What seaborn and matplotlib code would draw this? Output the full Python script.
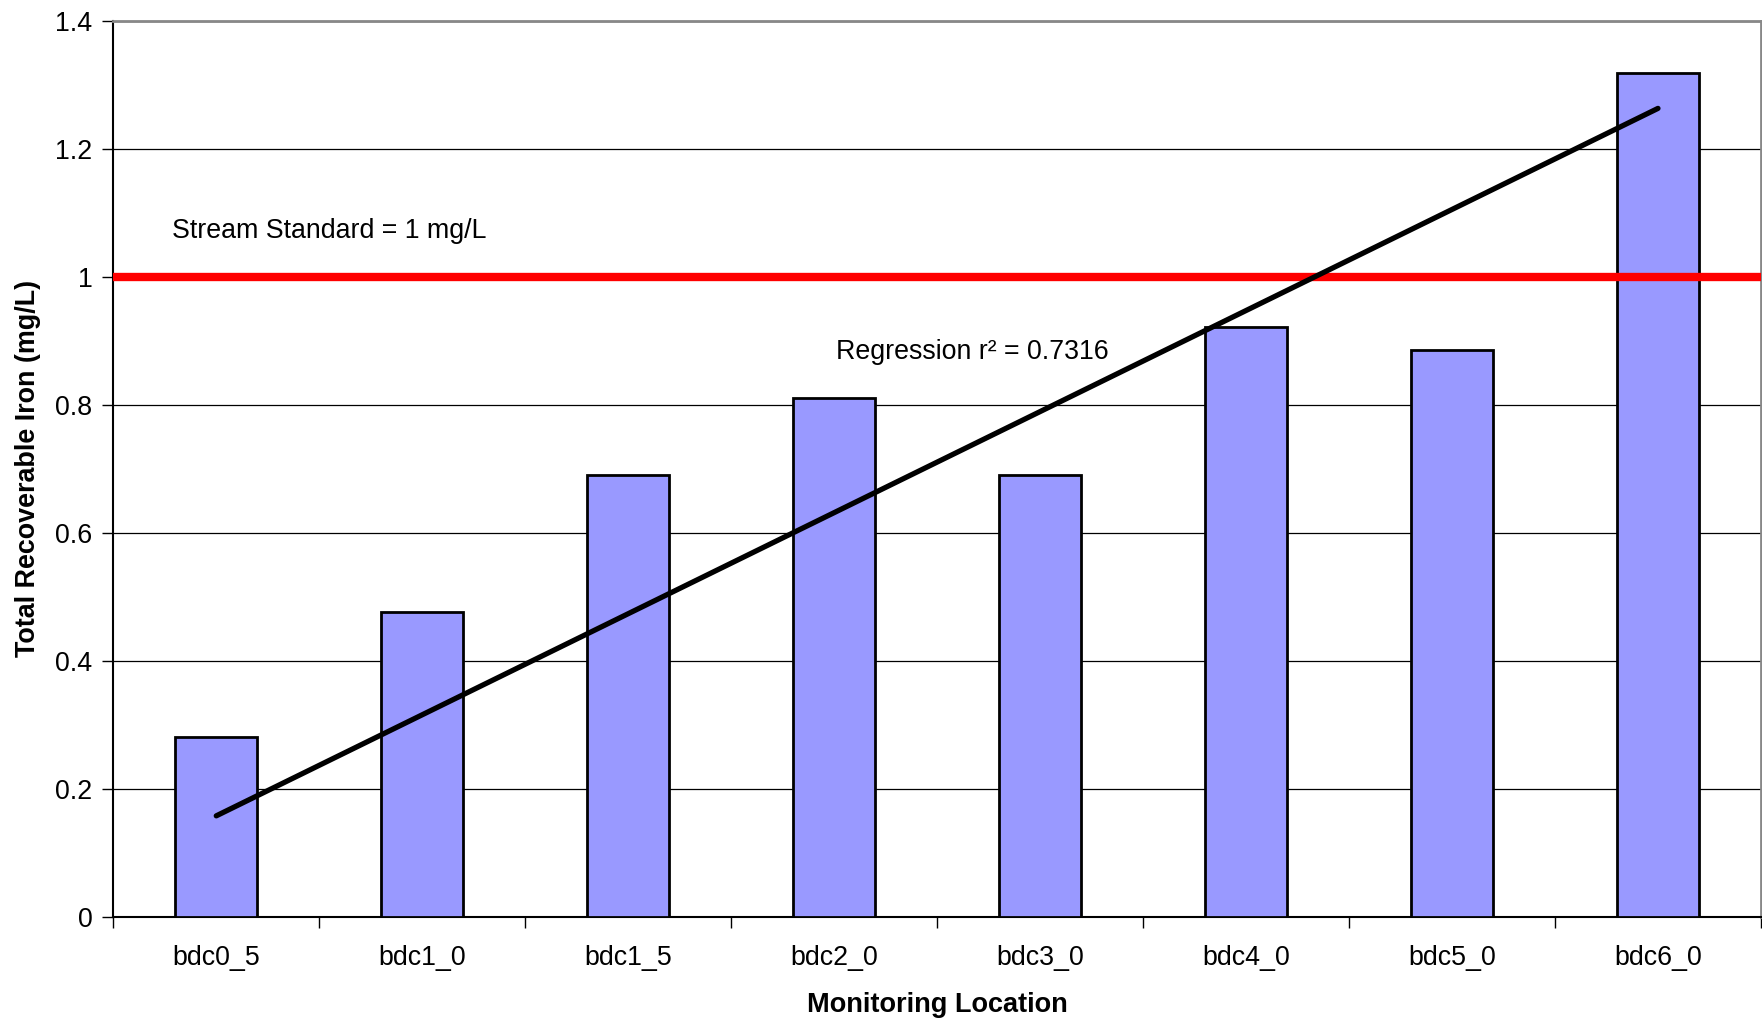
import matplotlib
matplotlib.use("Agg")
import matplotlib.pyplot as plt
from matplotlib.ticker import FixedLocator, FuncFormatter
import seaborn as sns

# values
locations = ["bdc0_5", "bdc1_0", "bdc1_5", "bdc2_0", "bdc3_0", "bdc4_0", "bdc5_0", "bdc6_0"]
iron = [0.281, 0.477, 0.690, 0.810, 0.690, 0.922, 0.885, 1.318]
trend_ends = ["bdc0_5", "bdc6_0"]
trend_vals = [0.158, 1.263]
standard = 1.0
y_ticks = [0, 0.2, 0.4, 0.6, 0.8, 1.0, 1.2, 1.4]

sns.set_style("white")
plt.rcParams["font.family"] = ["Liberation Sans", "DejaVu Sans"]
plt.rcParams["text.color"] = "black"
plt.rcParams["axes.labelcolor"] = "black"
plt.rcParams["xtick.color"] = "black"
plt.rcParams["ytick.color"] = "black"

fig = plt.figure(figsize=(17.62, 10.19), dpi=100)
ax = fig.add_axes([0.0643, 0.1001, 0.9351, 0.8796])

sns.barplot(x=locations, y=iron, color="#9999ff", saturation=1, width=0.4,
            edgecolor="black", linewidth=2, ax=ax, zorder=3)

ax.set_xlim(-0.5, len(locations) - 0.5)
ax.set_ylim(y_ticks[0], y_ticks[-1])

# grid
ax.yaxis.set_major_locator(FixedLocator(y_ticks))
ax.yaxis.set_major_formatter(FuncFormatter(lambda v, p: f"{v:g}"))
ax.grid(axis="y", color="black", linewidth=0.9, zorder=0)
ax.set_axisbelow(True)

# stream standard and trend line
ax.axhline(standard, color="#ff0000", linewidth=6, solid_capstyle="round", zorder=4)
tx = [locations.index(n) for n in trend_ends]
ax.plot(tx, trend_vals, color="black", linewidth=3.8, solid_capstyle="round", zorder=5)

ax.text(-0.216, 1.071, "Stream Standard = 1 mg/L", fontsize=19.3, va="center", ha="left")
ax.text(3.008, 0.883, "Regression r\u00b2 = 0.7316", fontsize=19.3, va="center", ha="left")

# ticks: labels at centres, small marks between categories
ax.set_xticks(range(len(locations)))
ax.set_xticklabels(locations)
ax.set_xticks([i - 0.5 for i in range(len(locations) + 1)], minor=True)
ax.tick_params(axis="x", which="major", length=0, pad=20, labelsize=19.3)
ax.tick_params(axis="x", which="minor", length=8, width=1, color="black", direction="out", bottom=True)
ax.tick_params(axis="y", which="major", length=8, width=1, color="black", direction="out",
               left=True, pad=7, labelsize=19.3)

for side in ["left", "bottom"]:
    ax.spines[side].set_color("black")
    ax.spines[side].set_linewidth(1.5)
for side in ["top", "right"]:
    ax.spines[side].set_color("#888888")
    ax.spines[side].set_linewidth(2)

ax.set_xlabel("Monitoring Location", fontsize=19.5, fontweight="bold")
ax.set_ylabel("Total Recoverable Iron (mg/L)", fontsize=19.4, fontweight="bold")
ax.xaxis.set_label_coords(0.5, -0.084)
ax.yaxis.set_label_coords(-0.0439, 0.5)

fig.savefig("out.png", dpi=100)
